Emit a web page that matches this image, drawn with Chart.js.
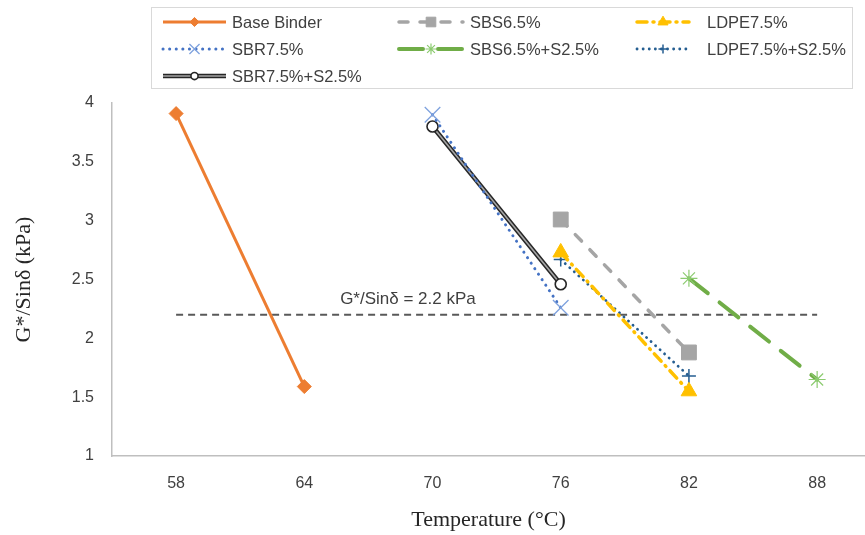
<!DOCTYPE html>
<html>
<head>
<meta charset="utf-8">
<script src="https://cdn.jsdelivr.net/npm/chart.js@4.4.0/dist/chart.umd.min.js"></script>
<style>
    html, body { margin: 0; padding: 0; background: #fff; }
    #wrap { width: 865px; height: 535px; }
</style>
</head>
<body>
<div id="wrap"><canvas id="chart" width="865" height="535"></canvas></div>
<script>
// temperatures on the x axis and G*/Sinδ ticks
const temperatures = [58, 64, 70, 76, 82, 88];
const yTicks = [1, 1.5, 2, 2.5, 3, 3.5, 4];

// series
const seriesNames = ['Base Binder', 'SBS6.5%', 'LDPE7.5%', 'SBR7.5%', 'SBS6.5%+S2.5%', 'LDPE7.5%+S2.5%', 'SBR7.5%+S2.5%'];
const seriesTemps = [[58, 64], [76, 82], [76, 82], [70, 76], [82, 88], [76, 82], [70, 76]];
const seriesValues = [[3.91, 1.59], [3.01, 1.88], [2.73, 1.55], [3.90, 2.26], [2.51, 1.65], [2.67, 1.68], [3.80, 2.46]];

const thresholdValue = 2.2;
const thresholdTemps = [58, 88];
const thresholdLabel = 'G*/Sinδ = 2.2 kPa';

const styles = [
    { color: '#ED7D31', width: 3, dash: [], cap: 'butt', point: 'rectRot', r: 7, pColor: '#ED7D31', pFill: '#ED7D31', pWidth: 1 },
    { color: '#A5A5A5', width: 3.5, dash: [9, 12], cap: 'round', point: 'rect', r: 10.5, pColor: '#A5A5A5', pFill: '#A5A5A5', pWidth: 1 },
    { color: '#FFC000', width: 3.5, dash: [10, 6, 1, 6], cap: 'round', point: 'triangle', r: 9, pColor: '#FFC000', pFill: '#FFC000', pWidth: 1 },
    { color: '#4472C4', width: 3, dash: [0.1, 6.5], cap: 'round', point: 'crossRot', r: 11, pColor: '#7FA2DE', pFill: '#7FA2DE', pWidth: 1.3 },
    { color: '#70AD47', width: 4, dash: [24, 15], cap: 'round', point: 'star', r: 8.5, pColor: '#8CCB70', pFill: '#8CCB70', pWidth: 1.2 },
    { color: '#255E91', width: 2.8, dash: [0.1, 6], cap: 'round', point: 'cross', r: 7, pColor: '#255E91', pFill: '#255E91', pWidth: 1.5 },
    { color: '#262626', width: 4.5, dash: [], cap: 'butt', point: 'circle', r: 5.5, pColor: '#262626', pFill: '#ffffff', pWidth: 1.6, inner: '#a6a6a6' },
];

const datasets = [];
seriesNames.forEach((name, i) => {
    const s = styles[i];
    const pts = seriesTemps[i].map((t, j) => ({ x: t, y: seriesValues[i][j] }));
    if (s.inner) {
        // compound (double) line: grey core drawn over a dark outline
        datasets.push({
            label: name, data: pts, borderColor: s.inner, borderWidth: 1.6,
            pointStyle: s.point, pointRadius: s.r, pointBorderColor: s.pColor,
            pointBackgroundColor: s.pFill, pointBorderWidth: s.pWidth, order: 0,
        });
        datasets.push({
            label: name + ' outline', data: pts, borderColor: s.color, borderWidth: s.width,
            pointRadius: 0, order: 1,
        });
        return;
    }
    datasets.push({
        label: name, data: pts, borderColor: s.color, borderWidth: s.width,
        borderDash: s.dash, borderCapStyle: s.cap,
        pointStyle: s.point, pointRadius: s.r, pointBorderColor: s.pColor,
        pointBackgroundColor: s.pFill, pointBorderWidth: s.pWidth, order: 0,
    });
});
datasets.push({
    label: thresholdLabel,
    data: thresholdTemps.map(t => ({ x: t, y: thresholdValue })),
    borderColor: '#595959', borderWidth: 2, borderDash: [7, 5], pointRadius: 0, order: 2,
});

// boxed legend in three columns, like the original
const legendLayout = {
    box: [151, 7, 852, 88],
    lineStart: [163, 399, 637],
    lineEnd: [226, 463, 689],
    textX: [232, 470, 707],
    rowY: [22, 49, 76],
};

const boxLegend = {
    id: 'boxLegend',
    afterDraw(chart) {
        const ctx = chart.ctx;
        const L = legendLayout;
        ctx.save();
        ctx.strokeStyle = '#d9d9d9';
        ctx.lineWidth = 1;
        ctx.strokeRect(L.box[0] + 0.5, L.box[1] + 0.5, L.box[2] - L.box[0], L.box[3] - L.box[1]);
        seriesNames.forEach((name, i) => {
            const s = styles[i];
            const col = i % 3, row = Math.floor(i / 3);
            const x0 = L.lineStart[col], x1 = L.lineEnd[col], y = L.rowY[row];
            ctx.setLineDash(s.dash);
            ctx.lineCap = s.cap;
            ctx.lineWidth = s.width;
            ctx.strokeStyle = s.color;
            ctx.beginPath();
            ctx.moveTo(x0, y);
            ctx.lineTo(x1, y);
            ctx.stroke();
            if (s.inner) {
                ctx.lineWidth = 1.6;
                ctx.strokeStyle = s.inner;
                ctx.stroke();
            }
            ctx.setLineDash([]);
            ctx.lineCap = 'butt';
            ctx.fillStyle = s.pFill;
            ctx.strokeStyle = s.pColor;
            ctx.lineWidth = s.pWidth;
            Chart.helpers.drawPoint(ctx, { pointStyle: s.point, radius: s.r * 0.65, rotation: 0, borderWidth: s.pWidth }, (x0 + x1) / 2, y);
            ctx.fillStyle = '#404040';
            ctx.font = '16.5px "Liberation Sans", Arial, sans-serif';
            ctx.textBaseline = 'middle';
            ctx.textAlign = 'left';
            ctx.fillText(name, L.textX[col], y + 1);
        });
        ctx.restore();
    }
};

// text over the 2.2 kPa criterion line
const thresholdText = {
    id: 'thresholdText',
    afterDatasetsDraw(chart) {
        const { ctx, scales: { x, y } } = chart;
        ctx.save();
        ctx.fillStyle = '#404040';
        ctx.font = '17px "Liberation Sans", Arial, sans-serif';
        ctx.textAlign = 'center';
        ctx.textBaseline = 'alphabetic';
        ctx.fillText(thresholdLabel, x.getPixelForValue(68.85), y.getPixelForValue(thresholdValue) - 11);
        ctx.restore();
    }
};

const tickFont = { family: '"Liberation Sans", Arial, sans-serif', size: 16 };
const titleFont = { family: '"Liberation Serif", "Times New Roman", serif', size: 22 };

new Chart(document.getElementById('chart').getContext('2d'), {
    type: 'line',
    data: { datasets },
    options: {
        responsive: false,
        animation: false,
        devicePixelRatio: 1,
        layout: { autoPadding: false, padding: { top: 103, left: 0, right: 0, bottom: 0 } },
        plugins: { legend: { display: false }, tooltip: { enabled: false } },
        scales: {
            x: {
                type: 'linear', min: 55, max: 90.24,
                afterBuildTicks: s => { s.ticks = temperatures.map(v => ({ value: v })); },
                afterFit: s => { s.height = 79; s.paddingLeft = 0; s.paddingRight = 0; },
                grid: { display: false, drawTicks: false },
                border: { color: '#bfbfbf', width: 1.5 },
                ticks: { padding: 18, color: '#404040', font: tickFont, callback: v => String(v), maxRotation: 0 },
                title: { display: true, text: 'Temperature (°C)', color: '#262626', font: titleFont, padding: { top: 0, bottom: 2 } },
            },
            y: {
                type: 'linear', min: 1, max: 4,
                afterBuildTicks: s => { s.ticks = yTicks.map(v => ({ value: v })); },
                afterFit: s => { s.width = 112; s.paddingTop = 0; s.paddingBottom = 0; },
                grid: { display: false, drawTicks: false },
                border: { color: '#bfbfbf', width: 1.5 },
                ticks: { padding: 18, color: '#404040', font: tickFont, callback: v => String(v) },
                title: { display: true, text: 'G*/Sinδ (kPa)', color: '#262626', font: titleFont, padding: { top: 11, bottom: 0 } },
            }
        }
    },
    plugins: [boxLegend, thresholdText]
});
</script>
</body>
</html>
